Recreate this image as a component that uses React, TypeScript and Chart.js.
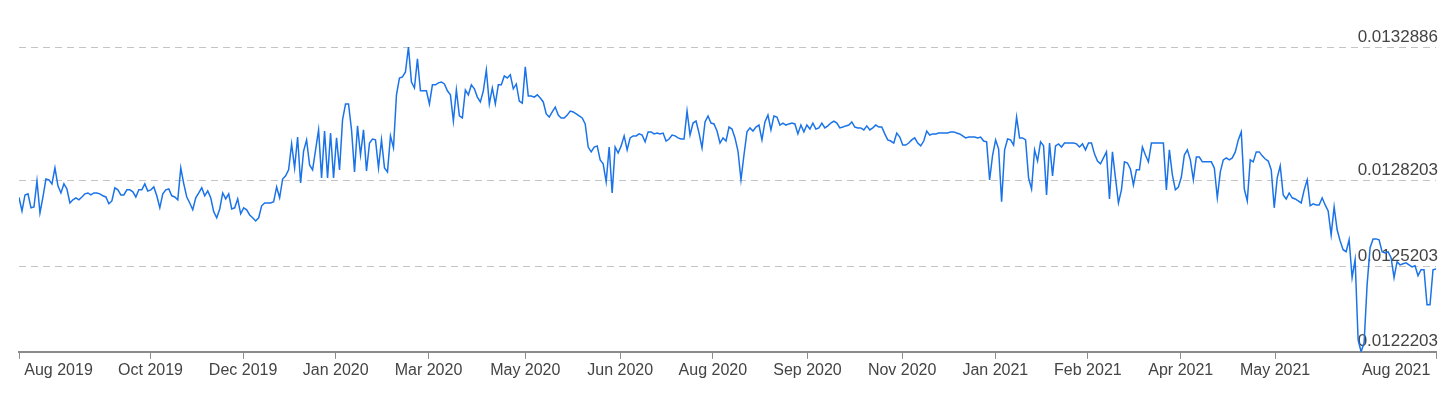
import React, { useEffect, useRef } from 'react';
import { Chart, registerables } from 'chart.js';

Chart.register(...registerables);

// Exchange rate, oldest first (Jul 2019 -> Dec 2019)
const rates2019 = [
  0.012761, 0.012714, 0.012770, 0.012774, 0.012725, 0.012728, 0.012819, 0.012707, 0.012763, 0.012826,
  0.012823, 0.012809, 0.012865, 0.012802, 0.012777, 0.012809, 0.012791, 0.012742, 0.012753, 0.012760,
  0.012753, 0.012763, 0.012774, 0.012777, 0.012770, 0.012777, 0.012777, 0.012774, 0.012767, 0.012763,
  0.012739, 0.012749, 0.012795, 0.012788, 0.012770, 0.012770, 0.012788, 0.012788, 0.012781, 0.012763,
  0.012788, 0.012788, 0.012809, 0.012784, 0.012788, 0.012798, 0.012767, 0.012725, 0.012774, 0.012788,
  0.012791, 0.012767, 0.012763, 0.012753, 0.012865, 0.012809, 0.012763, 0.012742, 0.012718, 0.012760,
  0.012777, 0.012795, 0.012767, 0.012784, 0.012760, 0.012711, 0.012690, 0.012721, 0.012777, 0.012756,
  0.012774, 0.012721, 0.012725, 0.012756, 0.012704, 0.012725, 0.012718, 0.012700, 0.012690, 0.012679,
  0.012690, 0.012732, 0.012742, 0.012742, 0.012742, 0.012746, 0.012798, 0.012760, 0.012826, 0.012837,
  0.012858, 0.012949, 0.012865, 0.012973, 0.012812, 0.012924, 0.012963, 0.012875, 0.012858, 0.012928,
  0.012998, 0.012830, 0.012994, 0.012830, 0.012987, 0.012830,
];

// Jan 2020 -> Dec 2020
const rates2020 = [
  0.012970, 0.012858, 0.013033, 0.013089, 0.013089, 0.012998, 0.012851, 0.013012, 0.012910, 0.012998,
  0.012854, 0.012952, 0.012966, 0.012963, 0.012865, 0.012963, 0.012865, 0.012851, 0.012977, 0.012935,
  0.013121, 0.013180, 0.013184, 0.013201, 0.0132886, 0.013166, 0.013145, 0.013247, 0.013135, 0.013135,
  0.013135, 0.013089, 0.013156, 0.013156, 0.013163, 0.013166, 0.013159, 0.013135, 0.013121, 0.013029,
  0.013138, 0.013047, 0.013040, 0.013138, 0.013121, 0.013156, 0.013142, 0.013113, 0.013096, 0.013135,
  0.013208, 0.013089, 0.013145, 0.013089, 0.013156, 0.013156, 0.013187, 0.013180, 0.013191, 0.013142,
  0.013159, 0.013099, 0.013092, 0.013219, 0.013117, 0.013117, 0.013113, 0.013121, 0.013110, 0.013096,
  0.013054, 0.013043, 0.013061, 0.013078, 0.013050, 0.013040, 0.013040, 0.013050, 0.013064, 0.013061,
  0.013054, 0.013047, 0.013040, 0.013019, 0.012938, 0.012921, 0.012938, 0.012942, 0.012893, 0.012879,
  0.012816, 0.012938, 0.012777, 0.012938, 0.012917, 0.012942, 0.012977, 0.012928, 0.012970, 0.012977,
  0.012977, 0.012984, 0.012980, 0.012956, 0.012991, 0.012991, 0.012984, 0.012987, 0.012984, 0.012987,
  0.012959, 0.012966, 0.012980, 0.012977, 0.012970, 0.012966, 0.012966, 0.013064, 0.012980, 0.013022,
  0.013029, 0.012987, 0.012935, 0.013026, 0.013047, 0.013022, 0.013019, 0.012994, 0.012952, 0.012970,
  0.012959, 0.013008, 0.013001, 0.012970, 0.012924, 0.012823, 0.012910, 0.012991, 0.013005, 0.012994,
  0.013008, 0.013015, 0.012963, 0.013026, 0.013050, 0.012998, 0.013047, 0.013043, 0.013015, 0.013022,
  0.013015, 0.013019, 0.013022, 0.013019, 0.012984, 0.013015, 0.012991, 0.013015, 0.013001, 0.013022,
  0.013001, 0.013005, 0.013022, 0.013005, 0.013012, 0.013022, 0.013029, 0.013022, 0.013005, 0.013008,
  0.013012, 0.013015, 0.013026, 0.013008, 0.013005, 0.013005, 0.012998, 0.013012, 0.012998, 0.013005,
  0.013015, 0.013008, 0.013008, 0.012984, 0.012963, 0.012959, 0.012952, 0.012987, 0.012973, 0.012945,
  0.012945, 0.012952, 0.012963, 0.012970, 0.012952, 0.012942, 0.012959, 0.012994, 0.012980, 0.012984,
  0.012984, 0.012987, 0.012987, 0.012987, 0.012987, 0.012991, 0.012991, 0.012987, 0.012984, 0.012977,
  0.012970, 0.012973, 0.012973, 0.012973, 0.012970, 0.012973, 0.012959, 0.012956, 0.012823, 0.012910,
];

// Jan 2021 -> Aug 2021
const rates2021 = [
  0.012963, 0.012931, 0.012746, 0.012928, 0.012966, 0.012963, 0.012945, 0.013043, 0.012970, 0.012970,
  0.012963, 0.012830, 0.012791, 0.012928, 0.012889, 0.012956, 0.012942, 0.012770, 0.012952, 0.012837,
  0.012942, 0.012949, 0.012938, 0.012952, 0.012952, 0.012952, 0.012952, 0.012949, 0.012938, 0.012949,
  0.012928, 0.012952, 0.012952, 0.012914, 0.012889, 0.012879, 0.012900, 0.012921, 0.012756, 0.012921,
  0.012830, 0.012742, 0.012788, 0.012886, 0.012882, 0.012861, 0.012805, 0.012858, 0.012858, 0.012938,
  0.012910, 0.012886, 0.012952, 0.012952, 0.012952, 0.012952, 0.012952, 0.012788, 0.012928, 0.012840,
  0.012788, 0.012798, 0.012833, 0.012910, 0.012928, 0.012893, 0.012823, 0.012903, 0.012903, 0.012886,
  0.012886, 0.012886, 0.012886, 0.012865, 0.012760, 0.012851, 0.012893, 0.012900, 0.012893, 0.012900,
  0.012921, 0.012963, 0.012991, 0.012791, 0.012749, 0.012893, 0.012886, 0.012921, 0.012921, 0.012907,
  0.012896, 0.012889, 0.012858, 0.012725, 0.012830, 0.012872, 0.012770, 0.012756, 0.012777, 0.012760,
  0.012756, 0.012749, 0.012742, 0.012788, 0.012823, 0.012732, 0.012739, 0.012735, 0.012735, 0.012760,
  0.012735, 0.012714, 0.012630, 0.012728, 0.012648, 0.012609, 0.012578, 0.012571, 0.012613, 0.012480,
  0.012543, 0.012262, 0.0122203, 0.012252, 0.012455, 0.012585, 0.012616, 0.012616, 0.012613, 0.012571,
  0.012567, 0.012571, 0.012550, 0.012480, 0.012536, 0.012525, 0.012529, 0.012532, 0.012525, 0.012518,
  0.012522, 0.012487, 0.012508, 0.012508, 0.012385, 0.012385, 0.012508, 0.012511,
];

const yMin = 0.0122203;
const yMax = 0.0132886;
const yTickValues = [0.0122203, 0.0125203, 0.0128203, 0.0132886];
const yTickLabels = ['0.0122203', '0.0125203', '0.0128203', '0.0132886'];

// x tick positions in data-index units, with their labels
const xTickPositions = [0, 13.2, 43.9, 74.8, 105.7, 136.7, 169, 200.7, 231.6, 263.2, 294.8, 325.9, 356.8, 387.8, 419.3, 459.7, 473];
const xTickLabels = ['', 'Aug 2019', 'Oct 2019', 'Dec 2019', 'Jan 2020', 'Mar 2020', 'May 2020', 'Jun 2020', 'Aug 2020', 'Sep 2020', 'Nov 2020', 'Jan 2021', 'Feb 2021', 'Apr 2021', 'May 2021', 'Aug 2021', ''];

const FONT = "'Liberation Sans', Arial, Helvetica, sans-serif";

export default function App() {
  const ref = useRef<HTMLCanvasElement>(null);

  useEffect(() => {
    const rates = [...rates2019, ...rates2020, ...rates2021];
    const points = rates.map((v, i) => ({ x: i, y: v }));
    const lastLabelTick = xTickPositions.length - 2;
    const chart = new Chart(ref.current as HTMLCanvasElement, {
      type: 'line',
      data: {
        datasets: [
          {
            data: points,
            borderColor: '#1a73e8',
            borderWidth: 1.5,
            pointRadius: 0,
            pointHoverRadius: 0,
            tension: 0,
            fill: false,
          },
        ],
      },
      options: {
        animation: false,
        responsive: false,
        devicePixelRatio: 1,
        layout: { padding: { left: 19, right: 16, top: 47, bottom: 16 } },
        plugins: { legend: { display: false }, tooltip: { enabled: false } },
        scales: {
          x: {
            type: 'linear',
            min: 0,
            max: rates.length - 1,
            afterBuildTicks: (s: any) => {
              s.ticks = xTickPositions.map((v) => ({ value: v }));
            },
            grid: {
              drawOnChartArea: false,
              drawTicks: true,
              tickLength: 7,
              tickWidth: 1,
              tickColor: (c: any) => (c.index === 1 || c.index === lastLabelTick ? 'rgba(0,0,0,0)' : '#8a8a8a'),
            },
            border: { display: true, color: '#8a8a8a', width: 2 },
            ticks: {
              autoSkip: false,
              maxRotation: 0,
              minRotation: 0,
              padding: 2,
              color: '#444444',
              font: { family: FONT, size: 16 },
              callback: (_v: any, i: number) => xTickLabels[i],
            },
          },
          y: {
            type: 'linear',
            position: 'right',
            min: yMin,
            max: yMax,
            afterBuildTicks: (s: any) => {
              s.ticks = yTickValues.map((v) => ({ value: v }));
            },
            grid: {
              drawTicks: false,
              lineWidth: 1,
              color: (c: any) => (c.index === 0 ? 'rgba(0,0,0,0)' : '#c4c4c4'),
            },
            border: { display: false, dash: [7, 5] },
            ticks: {
              mirror: true,
              padding: 2,
              labelOffset: -10,
              color: '#444444',
              font: { family: FONT, size: 17 },
              callback: (_v: any, i: number) => yTickLabels[i],
            },
          },
        },
      },
    } as any);
    return () => chart.destroy();
  }, []);

  return (
    <canvas
      ref={ref}
      width={1456}
      height={398}
      style={{ position: 'absolute', left: 0, top: 0, display: 'block', width: 1456, height: 398 }}
    />
  );
}
